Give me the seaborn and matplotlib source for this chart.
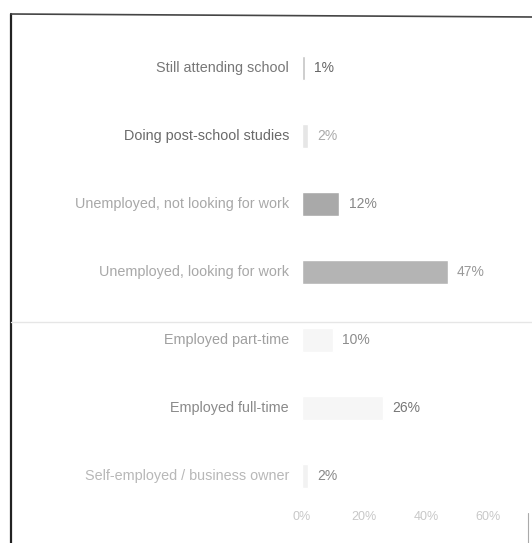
import matplotlib
matplotlib.use("Agg")
import matplotlib.pyplot as plt
from matplotlib.lines import Line2D
import seaborn as sns
import pandas as pd

categories = [
    "Still attending school",
    "Doing post-school studies",
    "Unemployed, not looking for work",
    "Unemployed, looking for work",
    "Employed part-time",
    "Employed full-time",
    "Self-employed / business owner",
]
values = [1, 2, 12, 47, 10, 26, 2]
value_labels = ["1%", "2%", "12%", "47%", "10%", "26%", "2%"]
xticks = [0, 20, 40, 60]
xtick_labels = ["0%", "20%", "40%", "60%"]

bar_colors = ["#c4c4c4", "#e6e6e6", "#a9a9a9", "#b4b4b4", "#f6f6f6", "#f6f6f6", "#f2f2f2"]
label_colors = ["#777777", "#6a6a6a", "#a8a8a8", "#a8a8a8", "#a0a0a0", "#8a8a8a", "#b8b8b8"]
value_colors = ["#666666", "#aaaaaa", "#888888", "#999999", "#8c8c8c", "#777777", "#888888"]

sns.set_style("white")
plt.rcParams["font.family"] = ["Liberation Sans", "DejaVu Sans"]

df = pd.DataFrame({"category": categories, "value": values})

fig = plt.figure(figsize=(5.32, 5.43), dpi=100)
ax = fig.add_axes([0.5677, 0.061, 0.408, 0.876])

sns.barplot(data=df, x="value", y="category", hue="category",
            palette=bar_colors, width=0.36, legend=False, ax=ax,
            orient="h", saturation=1)

ax.set_xlim(0, 70)
ax.set_ylim(len(categories) - 0.5, -0.5)
ax.set_xticks(xticks)
ax.set_xticklabels(xtick_labels, color="#c8c8c8", fontsize=9)
ax.set_yticks(range(len(categories)))
ax.set_yticklabels([])
ax.tick_params(axis="both", length=0)
ax.tick_params(axis="x", pad=1)
ax.set_xlabel("")
ax.set_ylabel("")
for s in ax.spines.values():
    s.set_visible(False)

for i, (cat, v, lab) in enumerate(zip(categories, values, value_labels)):
    ax.text(-4.2, i, cat, ha="right", va="center", fontsize=10.4,
            color=label_colors[i])
    ax.text(v + 3, i, lab, ha="left", va="center", fontsize=10,
            color=value_colors[i])

# frame around the page
W, H = 532, 543
fig.add_artist(Line2D([11 / W, 11 / W], [1 - 14 / H, 0], color="#222222", lw=1.6))
fig.add_artist(Line2D([11 / W, 1], [1 - 14 / H, 1 - 17 / H], color="#444444", lw=1.2))
fig.add_artist(Line2D([528 / W, 528 / W], [0, 30 / H], color="#aaaaaa", lw=0.8))
fig.add_artist(Line2D([11 / W, 1], [1 - 322 / H, 1 - 322 / H], color="#e6e6e6", lw=1.0))

fig.savefig("out.png", dpi=100)
